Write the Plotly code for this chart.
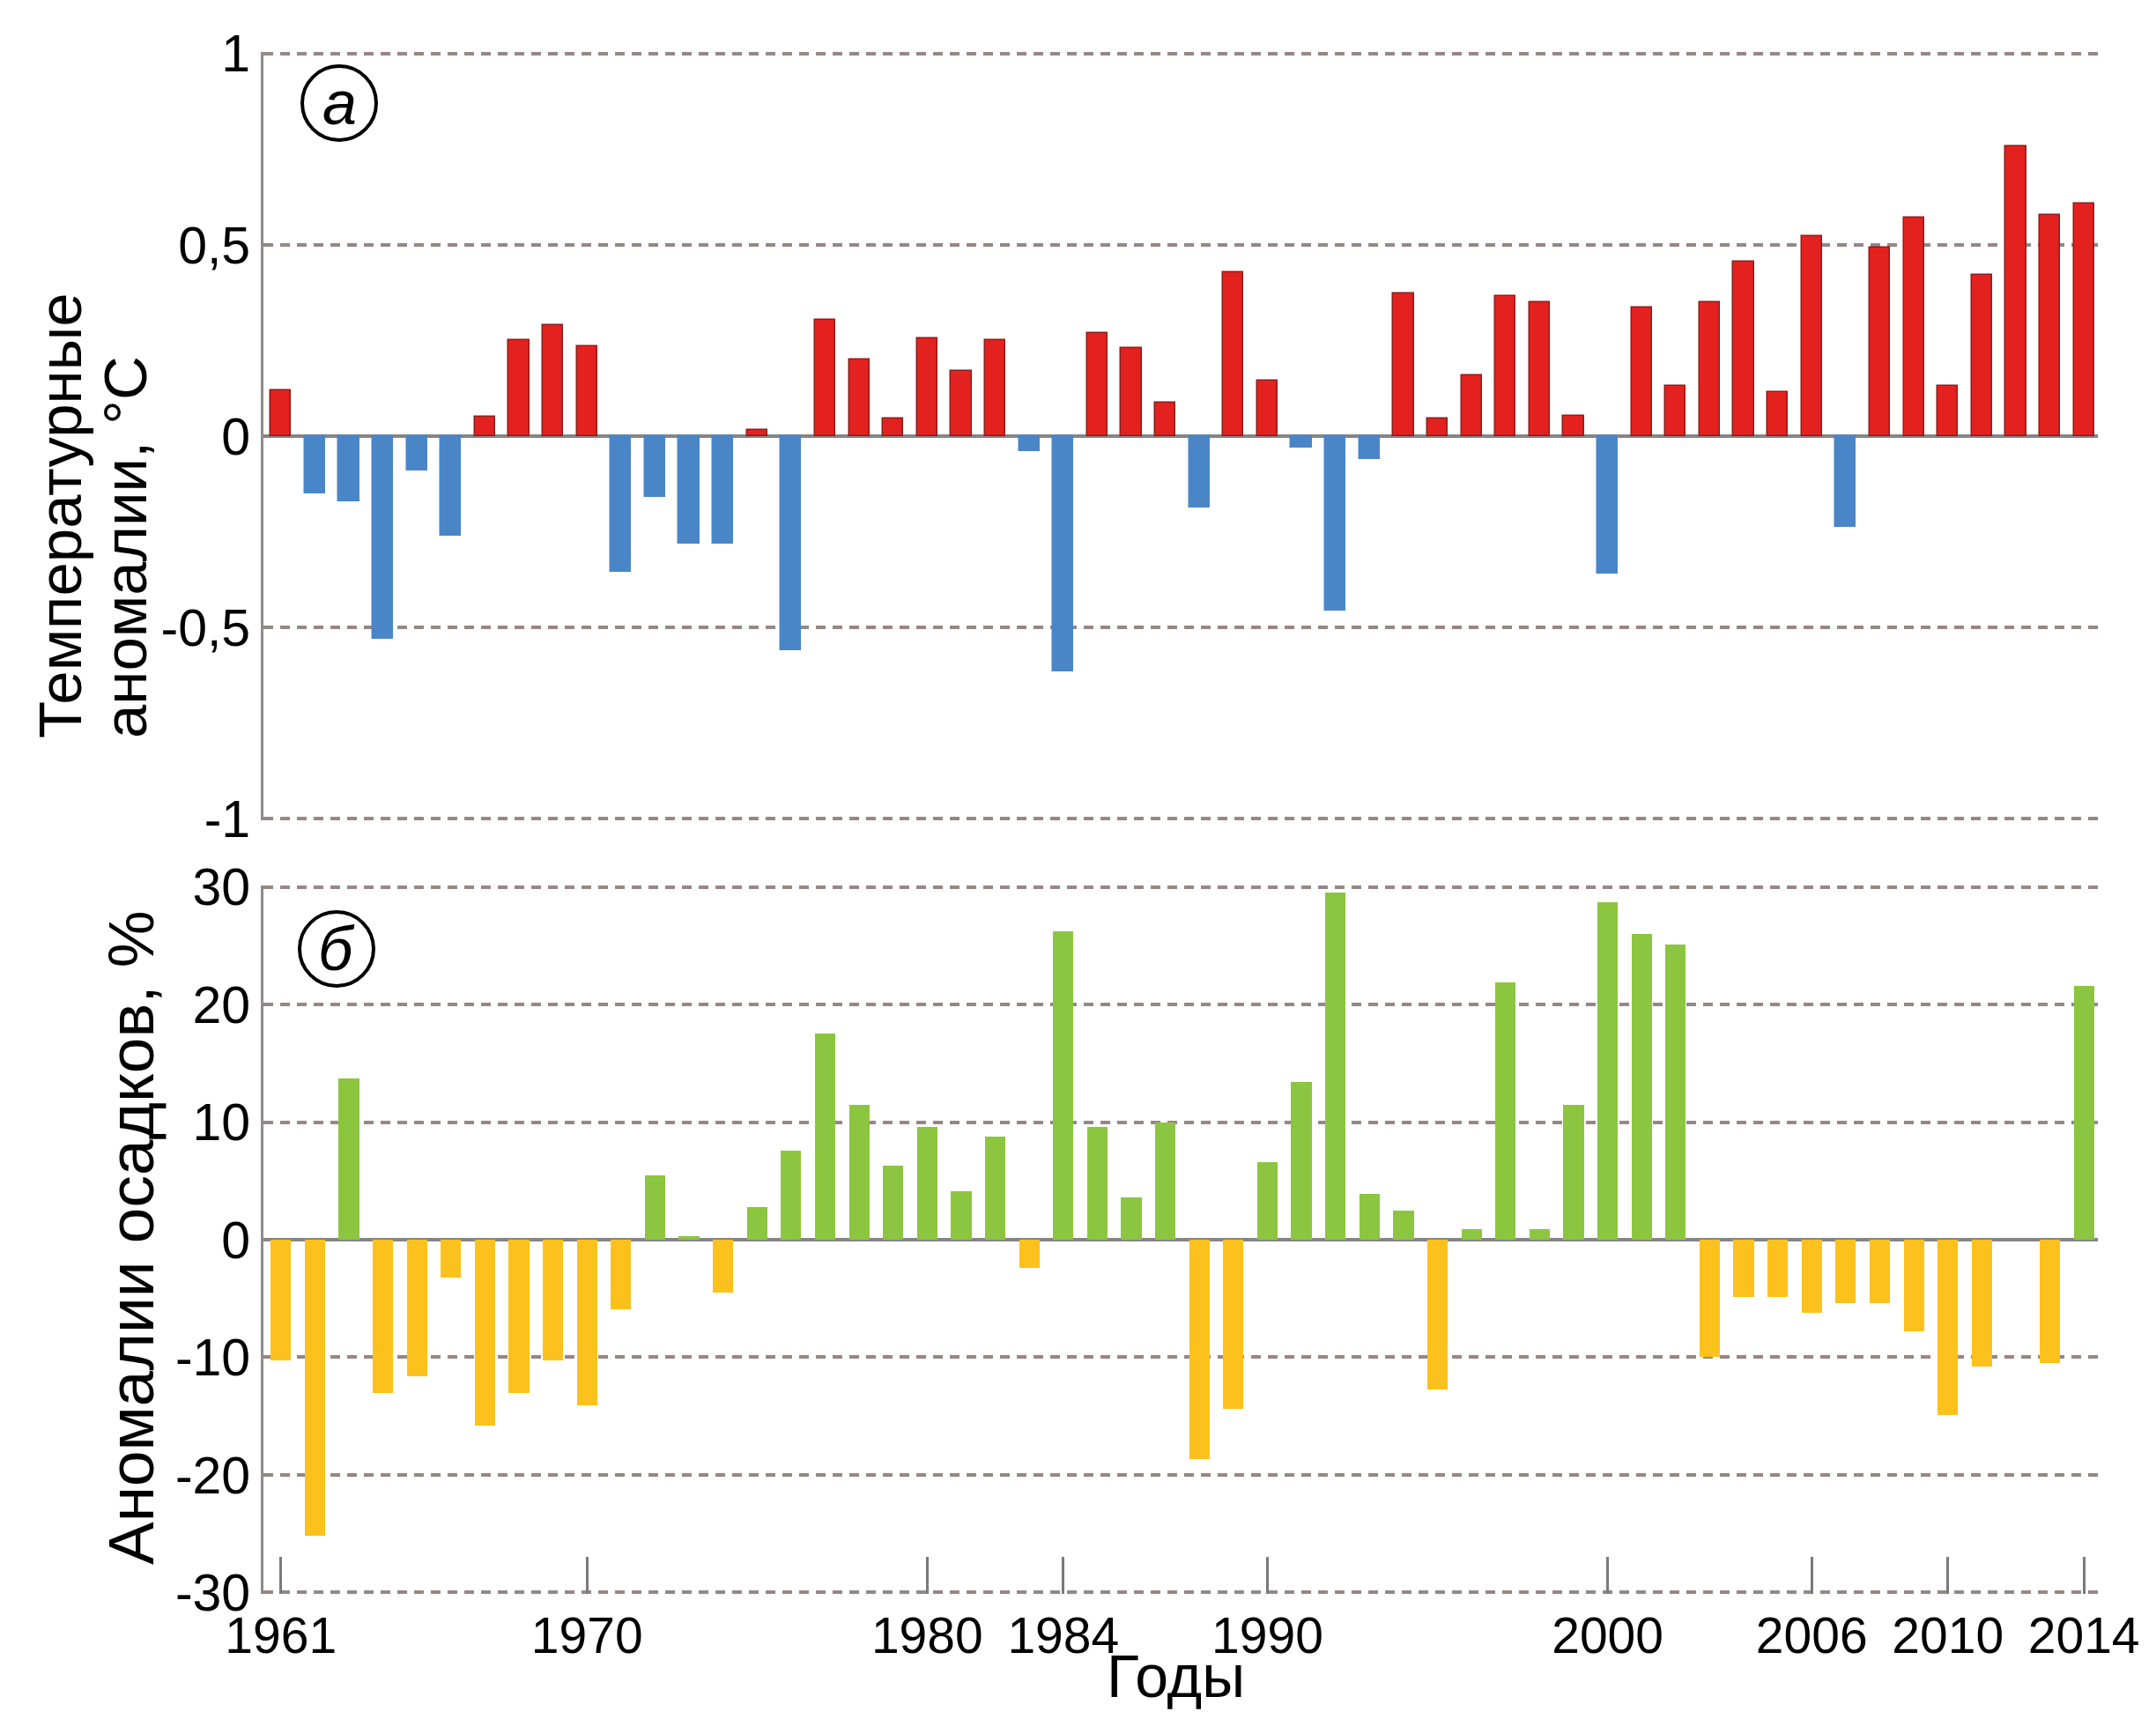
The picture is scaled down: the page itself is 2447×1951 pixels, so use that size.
import plotly.graph_objects as go

# ---------------- data ----------------
years = list(range(1961, 2015))

temp_anom = [0.12, -0.15, -0.17, -0.53, -0.09, -0.26, 0.05, 0.25, 0.29, 0.235,
             -0.355, -0.16, -0.28, -0.28, 0.017, -0.56, 0.305, 0.20, 0.045, 0.255,
             0.17, 0.25, -0.04, -0.615, 0.27, 0.23, 0.088, -0.187, 0.428, 0.144,
             -0.031, -0.457, -0.06, 0.372, 0.046, 0.159, 0.365, 0.351, 0.052, -0.359,
             0.337, 0.131, 0.351, 0.457, 0.116, 0.522, -0.238, 0.492, 0.571, 0.131,
             0.422, 0.757, 0.579, 0.607]

precip_anom = [-10.3, -25.2, 13.7, -13.0, -11.6, -3.2, -15.8, -13.0, -10.3, -14.1,
               -5.9, 5.5, 0.3, -4.5, 2.8, 7.6, 17.5, 11.5, 6.3, 9.6,
               4.1, 8.75, -2.4, 26.2, 9.6, 3.6, 10.0, -18.65, -14.4, 6.6,
               13.4, 29.5, 3.9, 2.5, -12.7, 0.9, 21.9, 0.9, 11.5, 28.7,
               26.0, 25.1, -10.0, -4.9, -4.9, -6.2, -5.4, -5.4, -7.8, -14.9,
               -10.8, 0.0, -10.5, 21.6]

x_tick_years = [1961, 1970, 1980, 1984, 1990, 2000, 2006, 2010, 2014]
temp_tickvals = [-1, -0.5, 0, 0.5, 1]
temp_ticktext = ["-1", "-0,5", "0", "0,5", "1"]
precip_tickvals = [-30, -20, -10, 0, 10, 20, 30]
precip_ticktext = ["-30", "-20", "-10", "0", "10", "20", "30"]

# ---------------- styles ----------------
RED, RED_EDGE = "#e3211f", "#8e1c1c"
BLUE = "#4a86c7"
GREEN, YELLOW = "#8cc540", "#fcc11d"
GRID = "#978784"
ZERO = "#858585"
AXIS = "#8c8c8c"
FONT = "Liberation Sans, Arial, sans-serif"

W, H = 2431, 1935  # page 2447x1951 minus default 8px body margin


def px(x):
    return x / W


def py(y):
    return 1 - y / H


temp_colors = [RED if v >= 0 else BLUE for v in temp_anom]
temp_edges = [RED_EDGE if v >= 0 else BLUE for v in temp_anom]
prec_colors = [GREEN if v >= 0 else YELLOW for v in precip_anom]

fig = go.Figure()
fig.add_trace(go.Bar(x=years, y=temp_anom, width=0.6,
                     marker=dict(color=temp_colors,
                                 line=dict(color=temp_edges, width=1.5)),
                     xaxis="x", yaxis="y", showlegend=False))
fig.add_trace(go.Bar(x=years, y=precip_anom, width=0.6,
                     marker=dict(color=prec_colors,
                                 line=dict(color=prec_colors, width=0)),
                     xaxis="x2", yaxis="y2", showlegend=False))

xdom = [px(291), px(2373)]
xrange = [1960.49, 2014.41]

common_y = dict(showgrid=True, gridcolor=GRID, gridwidth=3.5, griddash="11px,8px",
                zeroline=True, zerolinecolor=ZERO, zerolinewidth=4,
                showline=True, linecolor=AXIS, linewidth=3, ticks="",
                automargin=False,
                tickfont=dict(family=FONT, size=59, color="black"))

fig.update_layout(
    width=W, height=H,
    margin=dict(l=0, r=0, t=0, b=0, pad=0, autoexpand=False),
    paper_bgcolor="white", plot_bgcolor="white",
    bargap=0, showlegend=False,
    font=dict(family=FONT, color="black"),
    xaxis=dict(domain=xdom, range=xrange, anchor="y", showticklabels=False,
               ticks="", showgrid=False, zeroline=False, showline=False,
               automargin=False),
    yaxis=dict(domain=[py(923), py(51)], range=[-1.004, 1.004], anchor="x",
               tickvals=temp_tickvals, ticktext=temp_ticktext, **common_y),
    xaxis2=dict(domain=xdom, range=xrange, anchor="y2",
                tickvals=x_tick_years, ticktext=[str(y) for y in x_tick_years],
                ticks="inside", ticklen=42, tickwidth=2.5, tickcolor="#7a7a7a",
                ticklabelstandoff=9, automargin=False,
                tickfont=dict(family=FONT, size=57, color="black"),
                showgrid=False, zeroline=False, showline=False),
    yaxis2=dict(domain=[py(1801), py(997)], range=[-30.12, 30.12], anchor="x2",
                tickvals=precip_tickvals, ticktext=precip_ticktext, **common_y),
)

# axis titles
fig.add_annotation(text="Температурные", x=px(60), y=py(832), xref="paper", yref="paper",
                   textangle=-90, xanchor="center", yanchor="bottom", showarrow=False,
                   font=dict(family=FONT, size=69, color="black"))
fig.add_annotation(text="аномалии, °C", x=px(134), y=py(832), xref="paper", yref="paper",
                   textangle=-90, xanchor="center", yanchor="bottom", showarrow=False,
                   font=dict(family=FONT, size=69, color="black"))
fig.add_annotation(text="Аномалии осадков, %", x=px(140), y=py(1397), xref="paper", yref="paper",
                   textangle=-90, xanchor="center", yanchor="middle", showarrow=False,
                   font=dict(family=FONT, size=73, color="black"))
fig.add_annotation(text="Годы", x=px(1326), y=py(1934), xref="paper", yref="paper",
                   xanchor="center", yanchor="bottom", showarrow=False,
                   font=dict(family=FONT, size=68, color="black"))

# panel labels
for (cx, cy, lab) in [(377, 109, "а"), (374, 1069, "б")]:
    r = 42
    fig.add_shape(type="circle", xref="paper", yref="paper",
                  x0=px(cx - r), x1=px(cx + r), y0=py(cy + r), y1=py(cy - r),
                  line=dict(color="black", width=4), fillcolor="rgba(0,0,0,0)")
    fig.add_annotation(text="<i>" + lab + "</i>", x=px(cx), y=py(cy), xref="paper", yref="paper",
                       xanchor="center", yanchor="middle", showarrow=False,
                       font=dict(family=FONT, size=70, color="black"))

fig.write_html("out.html")
